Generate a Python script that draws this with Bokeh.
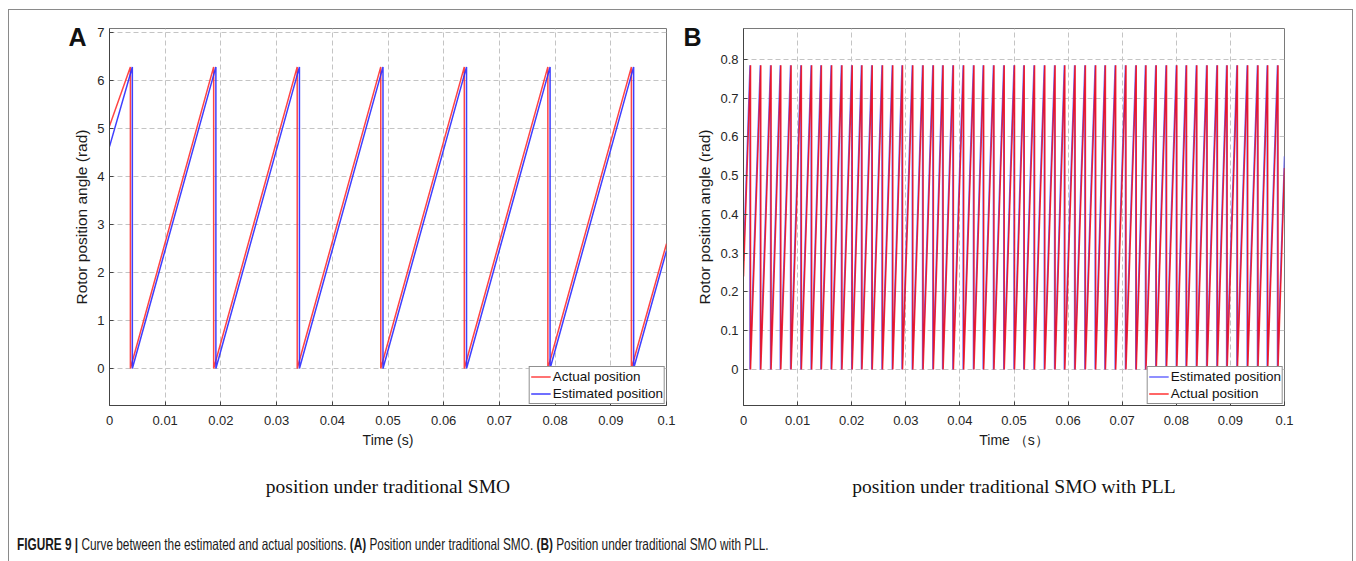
from bokeh.plotting import figure
from bokeh.models import Range1d, FixedTicker, Legend, LegendItem, Div, Title, LinearAxis
from bokeh.layouts import row, column
from bokeh.embed import file_html
from bokeh.resources import INLINE

# ---------------- data ----------------
T_END = 0.1
X_TICKS = [0, 0.01, 0.02, 0.03, 0.04, 0.05, 0.06, 0.07, 0.08, 0.09, 0.1]
X_LABELS = ["0", "0.01", "0.02", "0.03", "0.04", "0.05", "0.06", "0.07", "0.08", "0.09", "0.1"]
A_Y_TICKS = [0, 1, 2, 3, 4, 5, 6, 7]
A_Y_LABELS = ["0", "1", "2", "3", "4", "5", "6", "7"]
B_Y_TICKS = [0, 0.1, 0.2, 0.3, 0.4, 0.5, 0.6, 0.7, 0.8]
B_Y_LABELS = ["0", "0.1", "0.2", "0.3", "0.4", "0.5", "0.6", "0.7", "0.8"]

# Panel A: sawtooth 0 -> 2*pi, reset times
A_PEAK = 6.28
A_ACTUAL_START = 5.05
A_ACTUAL_END = 2.6
A_ACTUAL_DROPS = [0.00375, 0.0187, 0.0337, 0.0487, 0.0637, 0.0787, 0.0937]
A_EST_START = 4.62
A_EST_END = 2.45
A_EST_DROPS = [0.0041, 0.0191, 0.0341, 0.0491, 0.0641, 0.0791, 0.0941]

# Panel B: sawtooth 0 -> pi/4
B_PEAK = 0.785
B_ACTUAL_START = 0.24
B_ACTUAL_END = 0.52
B_ACTUAL_DROPS = [0.0013, 0.0032, 0.0051, 0.0069, 0.0088, 0.0107, 0.0126, 0.0144, 0.0163,
                  0.0182, 0.0201, 0.0219, 0.0238, 0.0257, 0.0276, 0.0294, 0.0313, 0.0332,
                  0.0351, 0.0369, 0.0388, 0.0407, 0.0426, 0.0444, 0.0463, 0.0482, 0.0501,
                  0.0519, 0.0538, 0.0557, 0.0576, 0.0594, 0.0613, 0.0632, 0.0651, 0.0669,
                  0.0688, 0.0707, 0.0726, 0.0744, 0.0763, 0.0782, 0.0801, 0.0819, 0.0838,
                  0.0857, 0.0876, 0.0894, 0.0913, 0.0932, 0.0951, 0.0969, 0.0988]
B_EST_START = 0.28
B_EST_END = 0.55
B_EST_DROPS = [0.0012, 0.0031, 0.0050, 0.0068, 0.0087, 0.0106, 0.0125, 0.0143, 0.0162,
               0.0181, 0.0200, 0.0218, 0.0237, 0.0256, 0.0275, 0.0293, 0.0312, 0.0331,
               0.0350, 0.0368, 0.0387, 0.0406, 0.0425, 0.0443, 0.0462, 0.0481, 0.0500,
               0.0518, 0.0537, 0.0556, 0.0575, 0.0593, 0.0612, 0.0631, 0.0650, 0.0668,
               0.0687, 0.0706, 0.0725, 0.0743, 0.0762, 0.0781, 0.0800, 0.0818, 0.0837,
               0.0856, 0.0875, 0.0893, 0.0912, 0.0931, 0.0950, 0.0968, 0.0987]

SANS = "Liberation Sans"
SERIF = "Liberation Serif"


def sawtooth(start, drops, peak, end):
    xs, ys = [0.0], [start]
    for t in drops:
        xs += [t, t]
        ys += [peak, 0.0]
    xs.append(T_END)
    ys.append(end)
    return xs, ys


def make_fig(width, left, right, yr, yticks, ylabels, xlabel, letter, letter_standoff, caption):
    p = figure(width=width, height=510, output_backend="svg", toolbar_location=None,
               x_range=Range1d(0, T_END), y_range=Range1d(*yr),
               min_border_left=left, min_border_right=right,
               min_border_top=18, min_border_bottom=115)
    p.outline_line_color = "#7a7a7a"
    p.outline_line_width = 1
    p.background_fill_color = "white"
    p.border_fill_color = "white"
    for ax in (p.xaxis[0], p.yaxis[0]):
        ax.axis_line_color = "#444444"
        ax.major_tick_in = 4
        ax.major_tick_out = 0
        ax.minor_tick_line_color = None
        ax.major_tick_line_color = "#444444"
        ax.major_label_text_font = SANS
        ax.major_label_text_font_size = "13px"
        ax.major_label_text_color = "#262626"
        ax.axis_label_text_font = SANS
        ax.axis_label_text_font_style = "normal"
        ax.axis_label_text_color = "#1a1a1a"
    p.xaxis[0].ticker = FixedTicker(ticks=X_TICKS)
    p.xaxis[0].major_label_overrides = dict(zip(X_TICKS, X_LABELS))
    p.xaxis[0].major_label_standoff = 10
    p.xaxis[0].axis_label = xlabel
    p.xaxis[0].axis_label_standoff = 4
    p.xaxis[0].axis_label_text_font_size = "14px"
    p.yaxis[0].ticker = FixedTicker(ticks=yticks)
    p.yaxis[0].major_label_overrides = dict(zip(yticks, ylabels))
    p.yaxis[0].major_label_standoff = 5
    p.yaxis[0].axis_label = "Rotor position angle (rad)"
    p.yaxis[0].axis_label_standoff = 4
    p.yaxis[0].axis_label_text_font_size = "15.5px"
    for g in (p.xgrid[0], p.ygrid[0]):
        g.grid_line_color = "#c4c4c4"
        g.grid_line_dash = "5 3"
        g.grid_line_width = 1
    p.xgrid[0].ticker = FixedTicker(ticks=X_TICKS)
    p.ygrid[0].ticker = FixedTicker(ticks=yticks)

    # panel letter as the label of an empty extra axis
    lax = LinearAxis(ticker=FixedTicker(ticks=[]), axis_line_color=None,
                     major_tick_line_color=None, minor_tick_line_color=None,
                     major_label_text_font_size="0px",
                     axis_label="\n" + letter, axis_label_orientation="horizontal",
                     axis_label_align="end", axis_label_standoff=letter_standoff,
                     axis_label_text_line_height=0.64,
                     axis_label_text_font=SANS, axis_label_text_font_style="bold",
                     axis_label_text_font_size="25px", axis_label_text_color="#111111")
    p.add_layout(lax, "left")

    # caption under the panel
    p.add_layout(Title(text=caption, align="center", text_font=SERIF,
                       text_font_size="19.5px", text_font_style="normal",
                       text_color="#111111", standoff=47), "below")
    return p


def make_legend(items):
    return Legend(items=items, location="bottom_right", margin=1, padding=1, spacing=0,
                  glyph_width=20, glyph_height=17, label_height=17, label_standoff=2,
                  label_text_font=SANS, label_text_font_size="13.5px",
                  label_text_color="#111111", border_line_color="#222222",
                  border_line_width=1, background_fill_alpha=1)


# ---------------- panel A ----------------
pA = make_fig(671, 100, 14, (-0.77, 7.08), A_Y_TICKS, A_Y_LABELS, "Time (s)",
              "A", -16, "position under traditional SMO")
ax_, ay_ = sawtooth(A_ACTUAL_START, A_ACTUAL_DROPS, A_PEAK, A_ACTUAL_END)
ex_, ey_ = sawtooth(A_EST_START, A_EST_DROPS, A_PEAK, A_EST_END)
rA1 = pA.line(ax_, ay_, line_color="#ff3030", line_width=1.5, line_alpha=0.9)
rA2 = pA.line(ex_, ey_, line_color="#2a2aff", line_width=1.5, line_alpha=0.9)
pA.add_layout(make_legend([LegendItem(label="Actual position", renderers=[rA1]),
                           LegendItem(label="Estimated position", renderers=[rA2])]))

# ---------------- panel B ----------------
pB = make_fig(672, 59, 68, (-0.093, 0.88), B_Y_TICKS, B_Y_LABELS, "Time （s）",
              "B", -8, "position under traditional SMO with PLL")
bex, bey = sawtooth(B_EST_START, B_EST_DROPS, B_PEAK, B_EST_END)
bax, bay = sawtooth(B_ACTUAL_START, B_ACTUAL_DROPS, B_PEAK, B_ACTUAL_END)
rB1 = pB.line(bex, bey, line_color="#5a5aff", line_width=1.5, line_alpha=0.9)
rB2 = pB.line(bax, bay, line_color="#ff0000", line_width=1.5, line_alpha=0.8)
pB.add_layout(make_legend([LegendItem(label="Estimated position", renderers=[rB1]),
                           LegendItem(label="Actual position", renderers=[rB2])]))

caption = Div(
    text='<div style="transform: scaleX(0.717); transform-origin: left top;">'
         '<b>FIGURE 9 |</b> Curve between the estimated and actual positions. '
         '<b>(A)</b> Position under traditional SMO. <b>(B)</b> Position under traditional SMO with PLL.'
         '</div>',
    width=1330, height=36,
    styles={"font-family": "'Liberation Sans', sans-serif",
            "font-size": "16.5px", "color": "#1a1a1a", "padding-left": "3px",
            "padding-top": "8px", "white-space": "nowrap"})

layout = column(row(pA, pB), caption,
                styles={"border-top": "1px solid #8a8a8a", "border-left": "1px solid #8a8a8a",
                        "border-right": "1px solid #8a8a8a",
                        "margin-top": "9px", "margin-left": "8px"})

open("out.html", "w").write(file_html(layout, INLINE))
